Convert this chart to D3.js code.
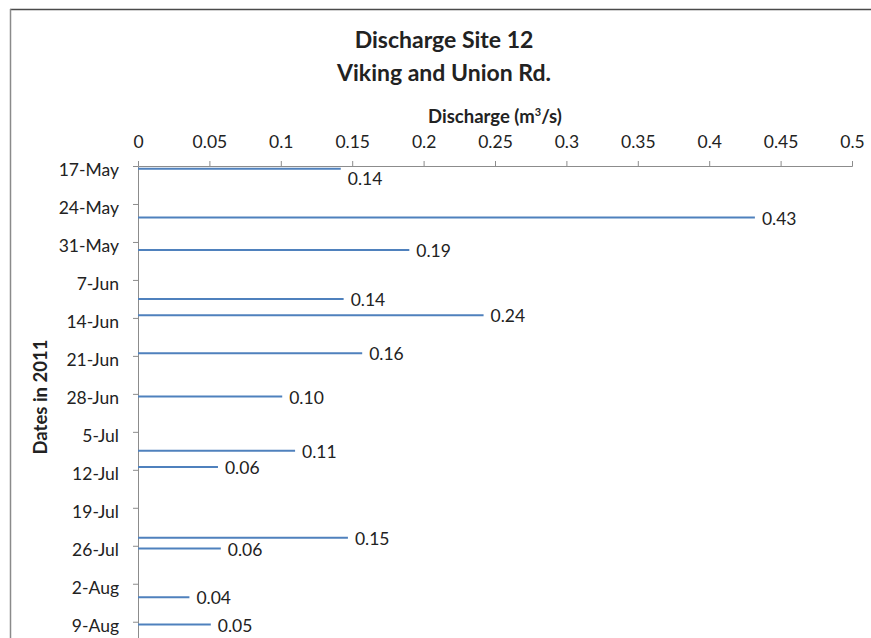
<!DOCTYPE html>
<html>
<head>
<meta charset="utf-8">
<script src="https://cdn.jsdelivr.net/npm/d3@7"></script>
<style>
  body { margin: 0; background: #fff; }
  text { font-family: Lato, "Open Sans", sans-serif; fill: #222; }
</style>
</head>
<body>
<div id="chart"></div>
<script>
// chart values
const sampleDates = ["2011-05-17", "2011-05-26", "2011-06-01", "2011-06-10", "2011-06-13",
                     "2011-06-20", "2011-06-28", "2011-07-08", "2011-07-11", "2011-07-24",
                     "2011-07-26", "2011-08-04", "2011-08-09"];
const discharge = [0.142, 0.432, 0.19, 0.144, 0.242, 0.157, 0.101, 0.11, 0.056, 0.147, 0.058, 0.036, 0.051];
const dateTicks = ["2011-05-17", "2011-05-24", "2011-05-31", "2011-06-07", "2011-06-14", "2011-06-21",
                   "2011-06-28", "2011-07-05", "2011-07-12", "2011-07-19", "2011-07-26", "2011-08-02", "2011-08-09"];
const xTicks = [0, 0.05, 0.1, 0.15, 0.2, 0.25, 0.3, 0.35, 0.4, 0.45, 0.5];

const W = 871, H = 638;
const parse = d3.timeParse("%Y-%m-%d");
const data = sampleDates.map((d, i) => ({date: parse(d), value: discharge[i]}));

const svg = d3.select("#chart").append("svg")
    .attr("width", W).attr("height", H);

// frame of the pasted chart
svg.append("line").attr("x1", 10).attr("x2", W).attr("y1", 9.5).attr("y2", 9.5)
    .attr("stroke", "#4a4a4a").attr("stroke-width", 1.5);
svg.append("line").attr("x1", 10.5).attr("x2", 10.5).attr("y1", 9).attr("y2", H)
    .attr("stroke", "#8a8a8a").attr("stroke-width", 1.5);

const x = d3.scaleLinear().domain([0, 0.5]).range([138, 852]);
const y = d3.scaleTime()
    .domain([parse("2011-05-17"), parse("2011-08-12")])
    .range([166, 638]);

// titles
svg.append("text").attr("x", 444).attr("y", 48).attr("text-anchor", "middle")
    .style("font-size", "23px").style("font-weight", "bold").text("Discharge Site 12");
svg.append("text").attr("x", 444).attr("y", 81).attr("text-anchor", "middle")
    .style("font-size", "23px").style("font-weight", "bold").text("Viking and Union Rd.");

const axisTitle = svg.append("text").attr("x", 495).attr("y", 123).attr("text-anchor", "middle")
    .style("font-size", "18.5px").style("font-weight", "bold");
axisTitle.append("tspan").text("Discharge (m");
axisTitle.append("tspan").attr("dy", -7).style("font-size", "11px").text("3");
axisTitle.append("tspan").attr("dy", 7).text("/s)");

svg.append("text")
    .attr("transform", "translate(47,397) rotate(-90)")
    .attr("text-anchor", "middle")
    .style("font-size", "18.5px").style("font-weight", "bold")
    .text("Dates in 2011");

// x axis on top
const gx = svg.append("g").attr("transform", "translate(0,166)")
    .call(d3.axisTop(x).tickValues(xTicks).tickSize(5).tickSizeOuter(5)
        .tickPadding(13).tickFormat(d3.format("")));
gx.selectAll("path, line").attr("stroke", "#8c8c8c");
gx.selectAll("text").style("font-size", "17.5px").attr("fill", "#222");

// y axis (dates)
const gy = svg.append("g").attr("transform", "translate(138,0)")
    .call(d3.axisLeft(y).tickValues(dateTicks.map(parse)).tickSize(5).tickSizeOuter(0)
        .tickPadding(14).tickFormat(d3.timeFormat("%-d-%b")));
gy.selectAll("path, line").attr("stroke", "#8c8c8c");
gy.selectAll("text").style("font-size", "17.5px").attr("fill", "#222").attr("dy", "0.55em");

// bars drawn as thin lines, centred on the day
const barY = d => y(d3.timeHour.offset(d.date, 12));
svg.append("g").selectAll("line")
    .data(data)
    .join("line")
    .attr("x1", x(0)).attr("x2", d => x(d.value))
    .attr("y1", barY).attr("y2", barY)
    .attr("stroke", "#4f81bd").attr("stroke-width", 2);

// value labels
svg.append("g").selectAll("text")
    .data(data)
    .join("text")
    .attr("x", d => x(d.value) + 7)
    .attr("y", d => barY(d) - 166 < 10 ? barY(d) + 10 : barY(d) + 1)
    .attr("dy", "0.35em")
    .style("font-size", "17.5px")
    .text(d => d3.format(".2f")(d.value));
</script>
</body>
</html>
